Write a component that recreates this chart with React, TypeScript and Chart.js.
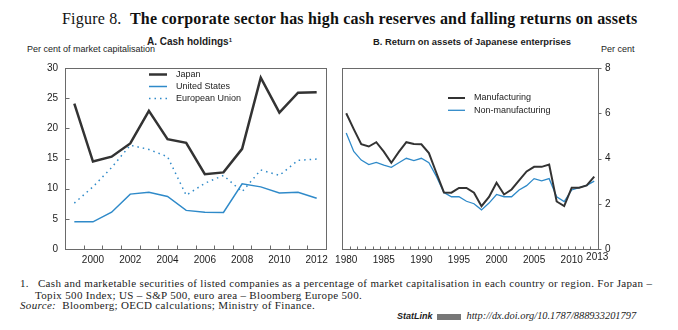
import React, { useEffect, useRef } from "react";
import { Chart, registerables } from "chart.js";

Chart.register(...registerables);

// ---- Panel A: Cash holdings (% of market capitalisation)
const yearsA = ["1999", "2000", "2001", "2002", "2003", "2004", "2005", "2006", "2007", "2008", "2009", "2010", "2011", "2012"];
const japan = [24.1, 14.5, 15.3, 17.5, 22.9, 18.2, 17.6, 12.4, 12.7, 16.6, 28.4, 22.6, 25.9, 26.0];
const unitedStates = [4.5, 4.5, 6.1, 9.1, 9.4, 8.7, 6.4, 6.1, 6.05, 10.8, 10.3, 9.3, 9.4, 8.4];
const europeanUnion = [7.6, 10.3, 13.5, 17.2, 16.5, 15.3, 8.9, 10.9, 12.2, 9.5, 13.1, 12.2, 14.7, 14.9];
const yTicksA = { min: 0, max: 30, step: 5 };

// ---- Panel B: Return on assets of Japanese enterprises (per cent)
const yearsB = ["1980", "1981", "1982", "1983", "1984", "1985", "1986", "1987", "1988", "1989", "1990", "1991", "1992", "1993", "1994", "1995", "1996", "1997", "1998", "1999", "2000", "2001", "2002", "2003", "2004", "2005", "2006", "2007", "2008", "2009", "2010", "2011", "2012", "2013"];
const manufacturing = [6.0, 5.3, 4.63, 4.53, 4.72, 4.3, 3.81, 4.29, 4.72, 4.64, 4.63, 4.24, 3.36, 2.5, 2.49, 2.7, 2.7, 2.49, 1.89, 2.3, 2.93, 2.41, 2.63, 3.03, 3.43, 3.63, 3.63, 3.73, 2.1, 1.9, 2.71, 2.71, 2.81, 3.2];
const nonManufacturing = [5.13, 4.31, 3.93, 3.73, 3.83, 3.71, 3.61, 3.81, 4.01, 3.91, 4.01, 3.81, 3.21, 2.5, 2.31, 2.31, 2.11, 2.0, 1.73, 2.03, 2.41, 2.31, 2.31, 2.61, 2.8, 3.11, 3.01, 3.11, 2.31, 2.1, 2.61, 2.71, 2.81, 3.0];
const yTicksB = { min: 0, max: 8, step: 2 };
const lastLabelB = "2013";

const DARK = "#333333";
const BLUE = "#2f8ac9";
const TEXT = "#1c1c1c";
const SANS = '"Liberation Sans", Arial, sans-serif';
const SERIF = '"Liberation Serif", "Times New Roman", serif';

const frameTicks = {
  id: "frameTicks",
  afterDraw(chart: any, _args: any, opts: any) {
    const { ctx, chartArea: a, scales } = chart;
    ctx.save();
    ctx.strokeStyle = opts.color;
    ctx.lineWidth = 1;
    const l = Math.round(a.left) + 0.5;
    const t = Math.round(a.top) + 0.5;
    const r = Math.round(a.right) + 0.5;
    const b = Math.round(a.bottom) + 0.5;
    ctx.strokeRect(l, t, r - l, b - t);
    ctx.beginPath();
    const x = scales.x;
    const n = chart.data.labels.length;
    for (let i = 0; i <= n; i++) {
      const px = Math.round(x.getPixelForValue(i - 0.5)) + 0.5;
      ctx.moveTo(px, b);
      ctx.lineTo(px, b - opts.xTick);
    }
    const y = scales.y;
    y.ticks.forEach((tk: any) => {
      const py = Math.round(y.getPixelForValue(tk.value)) + 0.5;
      if (opts.yInside) {
        ctx.moveTo(l, py);
        ctx.lineTo(l + opts.yTick, py);
      } else {
        ctx.moveTo(r, py);
        ctx.lineTo(r + opts.yTick, py);
      }
    });
    ctx.stroke();
    // label drawn slightly offset for the final year (as in the source figure)
    if (opts.extraLabel) {
      const idx = chart.data.labels.indexOf(opts.extraLabel);
      if (idx >= 0) {
        ctx.fillStyle = TEXT;
        ctx.font = `10px ${SANS}`;
        ctx.textAlign = "center";
        ctx.textBaseline = "top";
        ctx.fillText(opts.extraLabel, x.getPixelForValue(idx) + 3, b + 3);
      }
    }
    ctx.restore();
  },
};

const inlineLegend = {
  id: "inlineLegend",
  afterDraw(chart: any, _args: any, opts: any) {
    const { ctx } = chart;
    chart.data.datasets.forEach((ds: any, i: number) => {
      const y = opts.y + i * opts.row;
      ctx.save();
      ctx.strokeStyle = ds.borderColor;
      ctx.lineWidth = ds.borderWidth;
      ctx.setLineDash(ds.borderDash || []);
      ctx.beginPath();
      ctx.moveTo(opts.x, y);
      ctx.lineTo(opts.x + opts.len, y);
      ctx.stroke();
      ctx.setLineDash([]);
      ctx.fillStyle = TEXT;
      ctx.font = opts.font;
      ctx.textBaseline = "middle";
      ctx.fillText(ds.label, opts.textX, y);
      ctx.restore();
    });
  },
};

function makeOptions(kind: "A" | "B"): any {
  const isA = kind === "A";
  const yT = isA ? yTicksA : yTicksB;
  return {
    responsive: false,
    animation: false,
    events: [],
    layout: { padding: isA ? { left: 0, right: 14, top: 7, bottom: 0 } : { left: 7, right: 0, top: 7, bottom: 0 } },
    plugins: {
      legend: { display: false },
      tooltip: { enabled: false },
      frameTicks: { color: "#6a6a6a", xTick: isA ? 4 : 3, yTick: isA ? 4 : 3, yInside: isA, extraLabel: isA ? null : lastLabelB },
      inlineLegend: isA
        ? { x: 149, len: 18, textX: 176, y: 19.5, row: 12, font: `9px ${SANS}` }
        : { x: 118, len: 17, textX: 144, y: 43, row: 12.3, font: `9px ${SANS}` },
    },
    scales: {
      x: {
        type: "category",
        offset: true,
        grid: { display: false, drawTicks: false },
        border: { display: false },
        afterFit: (s: any) => {
          s.height = 21;
        },
        ticks: {
          autoSkip: false,
          maxRotation: 0,
          padding: 5,
          color: TEXT,
          font: { family: SANS, size: 10 },
          callback: function (this: any, _v: any, idx: number) {
            const lbl = this.getLabelForValue(idx);
            const yr = parseInt(lbl, 10);
            if (isA) return yr % 2 === 0 ? lbl : "";
            return yr % 5 === 0 ? lbl : "";
          },
        },
      },
      y: {
        position: isA ? "left" : "right",
        min: yT.min,
        max: yT.max,
        grid: { display: false, drawTicks: false },
        border: { display: false },
        afterFit: (s: any) => {
          s.width = isA ? 65 : 80;
        },
        ticks: {
          stepSize: yT.step,
          padding: 7,
          color: TEXT,
          font: { family: SANS, size: 10 },
        },
      },
    },
  };
}

function Panel({ kind, style, width, height }: { kind: "A" | "B"; style: any; width: number; height: number }) {
  const ref = useRef<HTMLCanvasElement | null>(null);
  useEffect(() => {
    if (!ref.current) return;
    const datasets =
      kind === "A"
        ? [
            { label: "Japan", data: japan, borderColor: DARK, borderWidth: 2.5, pointRadius: 0, tension: 0 },
            { label: "United States", data: unitedStates, borderColor: BLUE, borderWidth: 1.5, pointRadius: 0, tension: 0 },
            { label: "European Union", data: europeanUnion, borderColor: BLUE, borderWidth: 1.5, borderDash: [1.5, 4], pointRadius: 0, tension: 0 },
          ]
        : [
            { label: "Manufacturing", data: manufacturing, borderColor: DARK, borderWidth: 2, pointRadius: 0, tension: 0 },
            { label: "Non-manufacturing", data: nonManufacturing, borderColor: BLUE, borderWidth: 1.3, pointRadius: 0, tension: 0 },
          ];
    const chart = new Chart(ref.current, {
      type: "line",
      data: { labels: kind === "A" ? yearsA : yearsB, datasets },
      options: makeOptions(kind),
      plugins: [frameTicks, inlineLegend],
    } as any);
    return () => chart.destroy();
  }, [kind]);
  return <canvas ref={ref} width={width} height={height} style={{ position: "absolute", width, height, ...style }} />;
}

export default function App() {
  const abs = (left: number, top: number, extra: any = {}) => ({ position: "absolute" as const, left, top, whiteSpace: "nowrap" as const, ...extra });
  const foot = { font: `11px/11px ${SERIF}`, letterSpacing: "0.33px" };
  return (
    <div style={{ position: "absolute", left: 0, top: 0, width: 678, height: 330, background: "#fff", color: TEXT, overflow: "hidden" }}>
      <div style={abs(62, 11, { font: `16px/16px ${SERIF}`, letterSpacing: "0.2px", color: "#111" })}>
        Figure 8.&nbsp; <b>The corporate sector has high cash reserves and falling returns on assets</b>
      </div>
      <div style={abs(147, 37, { font: `bold 10px/10px ${SANS}` })}>
        A. Cash holdings<sup style={{ fontSize: 6, verticalAlign: "top", lineHeight: "6px" }}>1</sup>
      </div>
      <div style={abs(373, 37, { font: `bold 9.4px/10px ${SANS}` })}>B. Return on assets of Japanese enterprises</div>
      <div style={abs(27, 45, { font: `9px/9px ${SANS}` })}>Per cent of market capitalisation</div>
      <div style={abs(601, 45, { font: `9px/9px ${SANS}` })}>Per cent</div>

      <Panel kind="A" width={340} height={215} style={{ left: 0, top: 55 }} />
      <Panel kind="B" width={348} height={215} style={{ left: 330, top: 55 }} />

      <div style={abs(20, 278, foot)}>
        1.<span style={{ display: "inline-block", width: 9 }} />Cash and marketable securities of listed companies as a percentage of market capitalisation in each country or region. For Japan –
      </div>
      <div style={abs(35, 289.5, foot)}>Topix 500 Index; US – S&amp;P 500, euro area – Bloomberg Europe 500.</div>
      <div style={abs(20, 300, foot)}>
        <i>Source:</i>&nbsp; Bloomberg; OECD calculations; Ministry of Finance.
      </div>
      <div style={abs(397, 311, { font: `10.4px/10px ${SERIF}` })}>
        <b style={{ fontFamily: SANS, fontStyle: "italic", fontSize: 9 }}>StatLink</b>
        <span style={{ display: "inline-block", width: 24, height: 6, background: "#777", margin: "0 6px 0 4px", verticalAlign: "middle" }} />
        <i>http://dx.doi.org/10.1787/888933201797</i>
      </div>
    </div>
  );
}
